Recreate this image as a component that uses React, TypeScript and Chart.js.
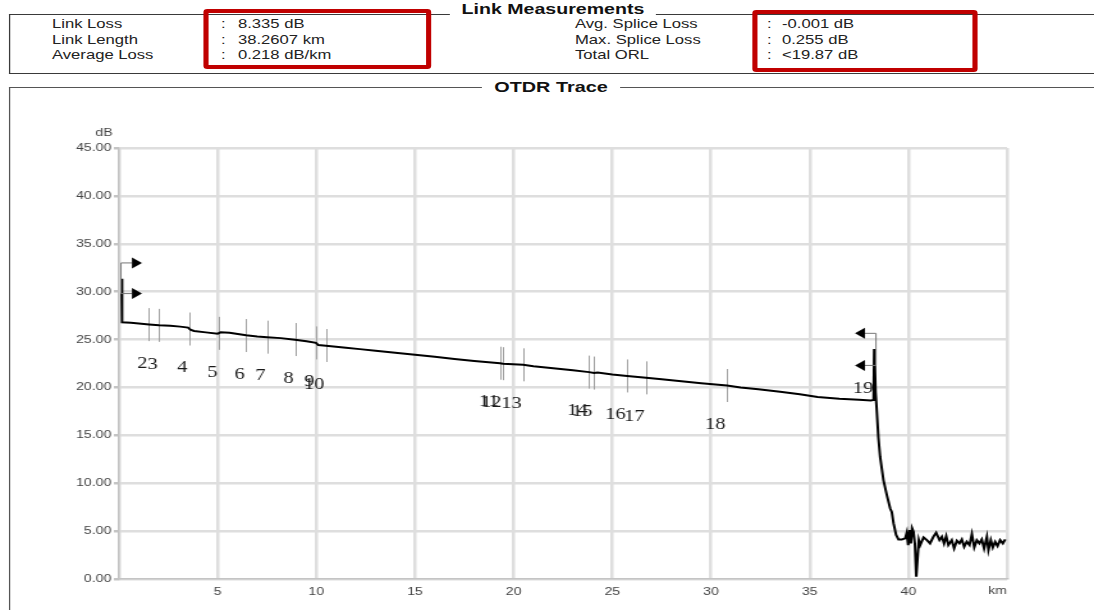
import React, { useEffect, useRef } from "react";
import { Chart, registerables } from "chart.js";

Chart.register(...registerables);

// The original report is stretched horizontally; everything is drawn in a narrower box and scaled.
const S = 1094 / 855;
const W = 855;
const H = 610;

const headerLeftLabels = ["Link Loss", "Link Length", "Average Loss"];
const headerLeftValues = ["8.335 dB", "38.2607 km", "0.218 dB/km"];
const headerRightLabels = ["Avg. Splice Loss", "Max. Splice Loss", "Total ORL"];
const headerRightValues = ["-0.001 dB", "0.255 dB", "<19.87 dB"];

const traceKm = [
  0.13, 0.14, 0.17, 0.6, 1.0, 1.52, 2.03, 2.6, 3.1, 3.5, 3.62, 3.8, 4.4, 5.0, 5.15, 5.6,
  6.44, 7.0, 7.5, 8.2, 8.92, 9.5, 9.98, 10.1, 10.49, 11.5, 12.2, 13.0, 14.0, 15.0, 16.0,
  17.0, 18.0, 19.31, 19.46, 20.48, 21.0, 22.0, 23.0, 23.82, 24.07, 24.25, 25.0, 25.75,
  26.71, 27.5, 28.5, 29.5, 30.81, 31.5, 32.4, 33.5, 34.5, 35.4, 36.5, 37.5, 38.1, 38.24,
  38.27, 38.3, 38.34, 38.4, 38.48, 38.57, 38.74, 38.91, 39.08, 39.16, 39.25, 39.38, 39.5,
  39.67, 39.84, 39.92, 39.99, 40.06, 40.13, 40.19, 40.26, 40.33, 40.4, 40.46, 40.53, 40.6,
  40.77, 40.94, 41.1, 41.27, 41.41, 41.58, 41.7, 41.81, 41.92, 42.03, 42.2, 42.32, 42.46,
  42.59, 42.71, 42.83, 42.96, 43.1, 43.22, 43.34, 43.47, 43.6, 43.72, 43.84, 43.98, 44.06,
  44.18, 44.28, 44.4, 44.52, 44.65, 44.79, 44.91,
];
const traceDb = [
  31.35, 29.0, 26.8, 26.75, 26.68, 26.58, 26.5, 26.45, 26.35, 26.25, 26.02, 25.9, 25.75,
  25.62, 25.76, 25.7, 25.45, 25.32, 25.25, 25.15, 24.98, 24.82, 24.66, 24.42, 24.36, 24.15,
  24.0, 23.82, 23.62, 23.42, 23.2, 22.97, 22.76, 22.53, 22.48, 22.36, 22.22, 22.0, 21.8,
  21.6, 21.5, 21.56, 21.36, 21.2, 21.0, 20.85, 20.65, 20.45, 20.2, 20.0, 19.8, 19.55, 19.3,
  19.0, 18.82, 18.72, 18.65, 18.7, 24.0, 22.5, 19.5, 17.6, 14.8, 12.74, 10.3, 8.75, 7.36,
  7.0, 5.8, 4.6, 4.13, 4.13, 4.24, 4.83, 3.54, 5.1, 3.71, 5.28, 4.93, 3.71, 0.24, 0.24,
  4.06, 3.54, 4.34, 4.06, 3.71, 4.41, 4.83, 4.06, 4.41, 3.71, 4.48, 3.54, 4.06, 3.2, 4.0,
  3.72, 4.13, 3.37, 3.89, 3.54, 4.69, 3.3, 4.06, 3.72, 4.13, 3.19, 4.41, 3.02, 4.06, 3.3,
  3.89, 3.44, 4.06, 3.72, 4.13,
];

const eventNames = ["2", "3", "4", "5", "6", "7", "8", "9", "10", "11", "12", "13", "14", "15", "16", "17", "18", "19"];
const eventKm = [1.52, 2.03, 3.55, 5.07, 6.44, 7.5, 8.92, 9.98, 10.49, 19.31, 19.46, 20.48, 23.82, 24.07, 25.75, 26.71, 30.81, 38.3];
const eventDb = [26.56, 26.48, 26.1, 25.65, 25.42, 25.25, 25.0, 24.65, 24.38, 22.53, 22.48, 22.36, 21.6, 21.5, 21.2, 21.0, 20.2, 18.65];
const eventKind = ["s", "s", "s", "s", "s", "s", "s", "s", "s", "s", "s", "s", "s", "s", "s", "s", "s", "end"];

const startMarkerKm = 0.1;
const startMarkerDb = [33.0, 29.8];
const endMarkerKm = 38.36;
const endMarkerDb = [25.65, 22.3];

const xTicks = [0, 5, 10, 15, 20, 25, 30, 35, 40, 45];
const yTicks = [0, 5, 10, 15, 20, 25, 30, 35, 40, 45];

const SANS = '"Liberation Sans", Arial, sans-serif';
const SERIF = '"Liberation Serif", "Times New Roman", serif';

const overlayPlugin = {
  id: "otdrOverlay",
  beforeDatasetsDraw(chart: any) {
    const { ctx } = chart;
    const x = chart.scales.x;
    const y = chart.scales.y;
    ctx.save();
    ctx.strokeStyle = "#a0a0a0";
    ctx.lineWidth = 1;
    eventKm.forEach((km, i) => {
      if (eventKind[i] !== "s") return;
      const px = Math.round(x.getPixelForValue(km)) + 0.5;
      const py = y.getPixelForValue(eventDb[i]);
      ctx.beginPath();
      ctx.moveTo(px, py - 16.5);
      ctx.lineTo(px, py + 16.5);
      ctx.stroke();
    });
    ctx.restore();
  },
  afterDatasetsDraw(chart: any) {
    const { ctx, chartArea } = chart;
    const x = chart.scales.x;
    const y = chart.scales.y;
    ctx.save();
    // event numbers
    ctx.font = `16px ${SERIF}`;
    ctx.fillStyle = "#1a1a1a";
    ctx.textAlign = "right";
    ctx.textBaseline = "middle";
    eventKm.forEach((km, i) => {
      const px = x.getPixelForValue(km) - 1.5 / S;
      const py = y.getPixelForValue(eventDb[i]);
      ctx.fillText(eventNames[i], px, eventKind[i] === "end" ? py - 12 : py + 39);
    });
    // start / end markers
    const drawBracket = (km: number, levels: number[], dir: number) => {
      const px = x.getPixelForValue(km);
      ctx.strokeStyle = "#777";
      ctx.lineWidth = 1;
      ctx.beginPath();
      ctx.moveTo(px, y.getPixelForValue(levels[0]));
      ctx.lineTo(px, y.getPixelForValue(levels[1]));
      ctx.stroke();
      levels.forEach((lv) => {
        const py = y.getPixelForValue(lv);
        const a = px + dir * (11 / S);
        const b = px + dir * (21 / S);
        ctx.strokeStyle = "#777";
        ctx.beginPath();
        ctx.moveTo(px, py);
        ctx.lineTo(a, py);
        ctx.stroke();
        ctx.fillStyle = "#000";
        ctx.beginPath();
        ctx.moveTo(a, py - 5.5);
        ctx.lineTo(a, py + 5.5);
        ctx.lineTo(b, py);
        ctx.closePath();
        ctx.fill();
      });
    };
    drawBracket(startMarkerKm, startMarkerDb, 1);
    drawBracket(endMarkerKm, endMarkerDb, -1);
    // axis units
    ctx.font = `11px ${SANS}`;
    ctx.fillStyle = "#444";
    ctx.textAlign = "center";
    ctx.textBaseline = "middle";
    ctx.fillText("dB", 104 / S, 133);
    ctx.textAlign = "right";
    ctx.fillText("km", chartArea.right, 591);
    ctx.restore();
  },
};

const txt = (s: string, left: number, top: number, key: string) => (
  <div
    key={key}
    style={{
      position: "absolute",
      left: left / S,
      top,
      font: `13px ${SANS}`,
      lineHeight: "15px",
      color: "#222",
      whiteSpace: "nowrap",
    }}
  >
    {s}
  </div>
);

export default function App() {
  const canvasRef = useRef<HTMLCanvasElement | null>(null);

  useEffect(() => {
    const canvas = canvasRef.current;
    if (!canvas) return;
    const chart = new Chart(canvas, {
      type: "line",
      data: {
        datasets: [
          {
            data: traceKm.map((k, i) => ({ x: k, y: traceDb[i] })),
            borderColor: "#000",
            borderWidth: 2,
            pointRadius: 0,
            tension: 0,
            fill: false,
          },
        ],
      },
      options: {
        responsive: false,
        animation: false,
        devicePixelRatio: 1,
        plugins: {
          legend: { display: false },
          tooltip: { enabled: false },
          title: { display: false },
        },
        layout: { padding: { left: 0, top: 148, right: W - 1007 / S, bottom: 0 } },
        scales: {
          x: {
            type: "linear",
            min: 0,
            max: 45,
            afterBuildTicks: (s: any) => {
              s.ticks = xTicks.map((v) => ({ value: v }));
            },
            afterFit: (s: any) => {
              s.height = H - 579;
            },
            grid: { color: "#dedede", lineWidth: 2.5, drawTicks: false },
            border: { color: "#c4c4c4", width: 1.5 },
            ticks: {
              padding: 6,
              maxRotation: 0,
              autoSkip: false,
              color: "#444",
              font: { family: SANS, size: 11 },
              callback: (v: any) => (v === 0 || v === 45 ? "" : String(v)),
            },
          },
          y: {
            type: "linear",
            min: 0,
            max: 45,
            afterBuildTicks: (s: any) => {
              s.ticks = yTicks.map((v) => ({ value: v }));
            },
            afterFit: (s: any) => {
              s.width = 119 / S;
            },
            grid: { color: "#dedede", lineWidth: 2.5, tickLength: 4, tickColor: "#c4c4c4" },
            border: { color: "#c4c4c4", width: 1.5 },
            ticks: {
              padding: 2,
              color: "#444",
              font: { family: SANS, size: 11 },
              callback: (v: any) => Number(v).toFixed(2),
            },
          },
        },
      } as any,
      plugins: [overlayPlugin],
    });
    return () => chart.destroy();
  }, []);

  const rowTops = [15.5, 31.5, 46.5];

  return (
    <div
      style={{
        position: "absolute",
        left: 0,
        top: 0,
        width: W,
        height: H,
        overflow: "hidden",
        transform: `scaleX(${S})`,
        transformOrigin: "0 0",
        background: "#fff",
      }}
    >
      {/* Link Measurements box */}
      <div
        style={{
          position: "absolute",
          left: 9 / S,
          top: 14,
          width: 900,
          height: 60,
          boxSizing: "border-box",
          borderTop: "1px solid #3a3a3a",
          borderLeft: "1px solid #3a3a3a",
          borderBottom: "1px solid #3a3a3a",
        }}
      />
      <div
        style={{
          position: "absolute",
          left: 553 / S,
          top: 0,
          transform: "translateX(-50%)",
          padding: "0 9px",
          background: "#fff",
          font: `bold 15.3px ${SANS}`,
          lineHeight: "18px",
          color: "#111",
          whiteSpace: "nowrap",
        }}
      >
        Link Measurements
      </div>
      {headerLeftLabels.map((s, i) => txt(s, 52, rowTops[i], "ll" + i))}
      {headerLeftValues.map((s, i) => txt(":", 221, rowTops[i], "lc" + i))}
      {headerLeftValues.map((s, i) => txt(s, 238, rowTops[i], "lv" + i))}
      {headerRightLabels.map((s, i) => txt(s, 575, rowTops[i], "rl" + i))}
      {headerRightValues.map((s, i) => txt(":", 767, rowTops[i], "rc" + i))}
      {headerRightValues.map((s, i) => txt(s, 782, rowTops[i], "rv" + i))}
      <div
        style={{
          position: "absolute",
          left: 204 / S,
          top: 9,
          width: 227 / S,
          height: 60,
          boxSizing: "border-box",
          border: "4px solid #c00000",
          borderRadius: 3,
        }}
      />
      <div
        style={{
          position: "absolute",
          left: 752 / S,
          top: 10,
          width: 226 / S,
          height: 62,
          boxSizing: "border-box",
          border: "4px solid #c00000",
          borderRadius: 3,
        }}
      />
      {/* OTDR Trace box */}
      <div
        style={{
          position: "absolute",
          left: 9 / S,
          top: 87,
          width: 900,
          height: 600,
          boxSizing: "border-box",
          borderTop: "1px solid #555",
          borderLeft: "1px solid #555",
        }}
      />
      <div
        style={{
          position: "absolute",
          left: 551 / S,
          top: 78,
          transform: "translateX(-50%)",
          padding: "0 10px",
          background: "#fff",
          font: `bold 15.5px ${SANS}`,
          lineHeight: "18px",
          color: "#111",
          whiteSpace: "nowrap",
        }}
      >
        OTDR Trace
      </div>
      <canvas
        ref={canvasRef}
        width={W}
        height={H}
        style={{ position: "absolute", left: 0, top: 0, width: W, height: H, pointerEvents: "none" }}
      />
    </div>
  );
}
